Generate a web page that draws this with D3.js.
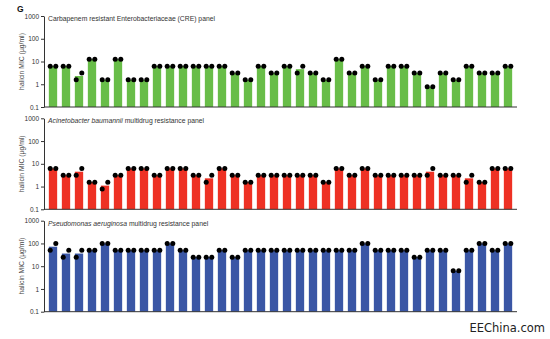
<!DOCTYPE html>
<html><head><meta charset="utf-8">
<script src="https://cdn.jsdelivr.net/npm/d3@7"></script>
<style>body{margin:0;background:#fff}svg{display:block}</style>
</head><body>
<svg id="c" width="550" height="339"></svg>
<script>
const strains = d3.range(1, 37).map(String);
const yTicks = [0.1, 1, 10, 100, 1000];
const yTickLabels = ["0.1", "1", "10", "100", "1000"];
const panelTitles = ["Carbapenem resistant Enterobacteriaceae (CRE) panel",
  "Acinetobacter baumannii multidrug resistance panel",
  "Pseudomonas aeruginosa multidrug resistance panel"];
const panelColors = ["#68bd48", "#ee3124", "#3a56a5"];

// CRE panel
const creRep1 = [6.25,6.25,1.56,12.5,1.56,12.5,1.56,1.56,6.25,6.25,6.25,6.25,6.25,6.25,3.125,1.56,6.25,3.125,
                 6.25,3.125,3.125,1.56,12.5,3.125,6.25,1.56,6.25,6.25,3.125,0.78,3.125,1.56,6.25,3.125,3.125,6.25];
const creRep2 = [6.25,6.25,3.125,12.5,1.56,12.5,1.56,1.56,6.25,6.25,6.25,6.25,6.25,6.25,3.125,1.56,6.25,3.125,
                 6.25,6.25,3.125,1.56,12.5,3.125,6.25,1.56,6.25,6.25,3.125,0.78,3.125,1.56,6.25,3.125,3.125,6.25];
const creBar  = [6.25,6.25,2.3,12.5,1.56,12.5,1.56,1.56,6.25,6.25,6.25,6.25,6.25,6.25,3.125,1.56,6.25,3.125,
                 6.25,4.6,3.125,1.56,12.5,3.125,6.25,1.56,6.25,6.25,3.125,0.78,3.125,1.56,6.25,3.125,3.125,6.25];
// Acinetobacter panel
const abRep1 = [6.25,3.125,3.125,1.56,0.78,3.125,6.25,6.25,3.125,6.25,6.25,3.125,1.56,6.25,3.125,1.56,3.125,3.125,
                3.125,3.125,3.125,1.56,6.25,3.125,6.25,3.125,3.125,3.125,3.125,3.125,3.125,3.125,1.56,1.56,6.25,6.25];
const abRep2 = [6.25,3.125,6.25,1.56,1.56,3.125,6.25,6.25,3.125,6.25,6.25,3.125,3.125,6.25,3.125,1.56,3.125,3.125,
                3.125,3.125,3.125,1.56,6.25,3.125,6.25,3.125,3.125,3.125,3.125,6.25,3.125,3.125,3.125,1.56,6.25,6.25];
const abBar  = [6.25,3.125,4.5,1.56,1.1,3.125,6.25,6.25,3.125,6.25,6.25,3.125,2.3,6.25,3.125,1.56,3.125,3.125,
                3.125,3.125,3.125,1.56,6.25,3.125,6.25,3.125,3.125,3.125,3.125,4.5,3.125,3.125,2.3,1.56,6.25,6.25];
// Pseudomonas panel
const paRep1 = [50,25,25,50,100,50,50,50,50,100,50,25,25,50,25,50,50,50,
                50,50,50,50,50,50,100,50,50,50,25,50,50,6.25,50,100,50,100];
const paRep2 = [100,50,50,50,100,50,50,50,50,100,50,25,25,50,25,50,50,50,
                50,50,50,50,50,50,100,50,50,50,25,50,50,6.25,50,100,50,100];
const paBar  = [72,36,36,50,100,50,50,50,50,100,50,25,25,50,25,50,50,50,
                50,50,50,50,50,50,100,50,50,50,25,50,50,6.25,50,100,50,100];

const panels = [
  {title: panelTitles[0], italicWords: 0, color: panelColors[0], r1: creRep1, r2: creRep2, bar: creBar, top: 16},
  {title: panelTitles[1], italicWords: 2, color: panelColors[1], r1: abRep1, r2: abRep2, bar: abBar, top: 118.3},
  {title: panelTitles[2], italicWords: 2, color: panelColors[2], r1: paRep1, r2: paRep2, bar: paBar, top: 220.7}
];

const svg = d3.select("#c");
const font = "Liberation Sans, Arial, Helvetica, sans-serif";
const axisX = 44, axisEnd = 517, pH = 91;

const x = d3.scaleBand().domain(strains).range([46.5, 514.5]).paddingInner(0.36).paddingOuter(0.18);

svg.append("text").attr("x", 17).attr("y", 11.5).attr("font-family", font)
  .attr("font-weight", "bold").attr("font-size", 8.5).attr("fill", "#111").text("G");

panels.forEach(p => {
  const y = d3.scaleLog().domain([0.1, 1000]).range([p.top + pH, p.top]);
  const g = svg.append("g");
  g.selectAll("rect.bar").data(strains).join("rect")
    .attr("x", d => x(d)).attr("width", x.bandwidth())
    .attr("y", (d, i) => y(p.bar[i])).attr("height", (d, i) => y(0.1) - y(p.bar[i]))
    .attr("fill", p.color);
  const off = x.bandwidth() / 2;
  g.selectAll("circle.a").data(strains).join("circle")
    .attr("cx", d => x(d) + off - 2.8).attr("cy", (d, i) => y(p.r1[i])).attr("r", 2.5).attr("fill", "#000");
  g.selectAll("circle.b").data(strains).join("circle")
    .attr("cx", d => x(d) + off + 2.8).attr("cy", (d, i) => y(p.r2[i])).attr("r", 2.5).attr("fill", "#000");
  const ax = g.append("g").attr("transform", `translate(${axisX},0)`)
    .call(d3.axisLeft(y).tickValues(yTicks).tickFormat((d, i) => yTickLabels[i]).tickSize(3).tickSizeOuter(0));
  ax.select(".domain").attr("stroke", "#333").attr("stroke-width", 1);
  ax.selectAll(".tick line").attr("stroke", "#333");
  ax.selectAll(".tick text").attr("font-family", font).attr("font-size", 6.5).attr("fill", "#333").attr("dx", 1);
  g.append("line").attr("x1", axisX).attr("x2", axisEnd).attr("y1", y(0.1)).attr("y2", y(0.1))
    .attr("stroke", "#333").attr("stroke-width", 1);
  const words = p.title.split(" ");
  const t = g.append("text").attr("x", 48).attr("y", p.top + 5).attr("font-family", font)
    .attr("font-size", 6.8).attr("fill", "#333");
  t.append("tspan").attr("font-style", p.italicWords ? "italic" : "normal")
    .text(p.italicWords ? words.slice(0, p.italicWords).join(" ") + " " : "");
  t.append("tspan").text(words.slice(p.italicWords).join(" "));
  g.append("text").attr("transform", `translate(23.5,${p.top + pH / 2}) rotate(-90)`)
    .attr("text-anchor", "middle").attr("font-family", font).attr("font-size", 6.8)
    .attr("fill", "#444").text("halicin MIC (µg/ml)");
});

svg.append("text").attr("x", 545).attr("y", 332).attr("text-anchor", "end")
  .attr("font-family", "DejaVu Sans, sans-serif").attr("font-size", 11.5).attr("fill", "#222").text("EEChina.com");
</script>
</body></html>
